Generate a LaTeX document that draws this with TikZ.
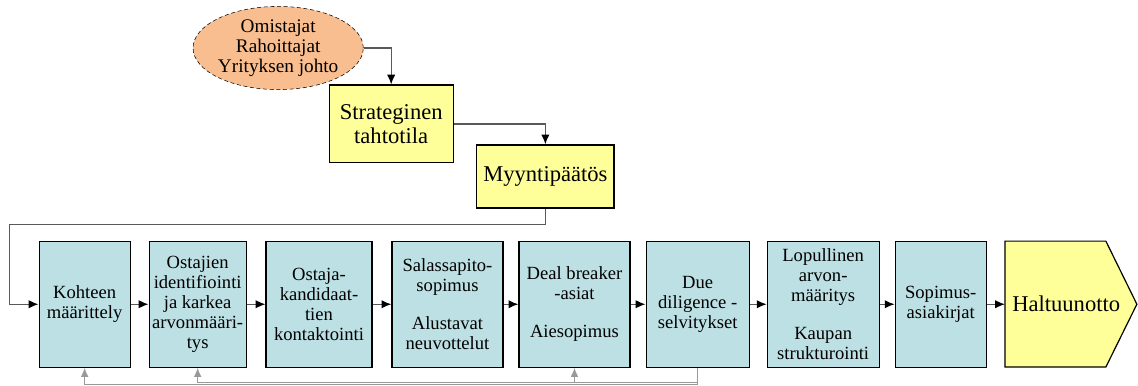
\documentclass[tikz,border=0pt]{standalone}
\usepackage{fontspec}
\setmainfont{Liberation Serif}
\usetikzlibrary{arrows.meta,shapes.geometric}

\definecolor{phasefill}{RGB}{188,224,227}
\definecolor{decisionfill}{RGB}{255,255,153}
\definecolor{ownerfill}{RGB}{249,190,143}

\begin{document}
\begin{tikzpicture}[>={Latex[length=2.6mm,width=2.2mm,color=black]},
	phase/.style={draw, line width=0.9pt, fill=phasefill, align=center, inner sep=0pt,
		minimum height=3.33cm, font=\fontsize{14}{15}\selectfont},
	decision/.style={draw, line width=0.9pt, fill=decisionfill, align=center, inner sep=0pt,
		font=\fontsize{17}{18}\selectfont},
	owner/.style={ellipse, draw, densely dashed, thin, fill=ownerfill, align=center, inner sep=0pt,
		minimum width=4.15cm, minimum height=2.2cm, font=\fontsize{14.5}{15}\selectfont},
	flow/.style={->, line width=0.9pt, draw=gray!70!black},
	back/.style={->, line width=0.8pt, draw=gray!80, >={Latex[length=2.4mm,width=2mm,color=gray!80]}}]
	\useasboundingbox (0,0) rectangle (30.11,10.19);
	% ylataso
	\node[owner] (own) at (7.36,8.92) {Omistajat\\Rahoittajat\\Yrityksen johto};
	\node[decision, minimum width=3.28cm, minimum height=2.06cm] (strat) at (10.35,6.91) {Strateginen\\tahtotila};
	\node[decision, minimum width=3.63cm, minimum height=1.67cm] (myy) at (14.43,5.52) {Myyntipäätös};
	\coordinate (ret) at (0.26,4.26);
	% myyntiprosessin vaiheet
	\node[phase, minimum width=2.41cm] (k1) at (2.24,2.14) {Kohteen\\määrittely};
	\node[phase, minimum width=2.57cm] (k2) at (5.23,2.14) {Ostajien\\identifiointi\\ja karkea\\arvonmääri-\\tys};
	\node[phase, minimum width=2.80cm] (k3) at (8.44,2.14) {Ostaja-\\kandidaat-\\tien\\kontaktointi};
	\node[phase, minimum width=2.94cm] (k4) at (11.84,2.14) {Salassapito-\\sopimus\\[14pt]Alustavat\\neuvottelut};
	\node[phase, minimum width=2.94cm] (k5) at (15.20,2.14) {Deal breaker\\-asiat\\[14pt]Aiesopimus};
	\node[phase, minimum width=2.73cm] (k6) at (18.46,2.14) {Due\\diligence -\\selvitykset};
	\node[phase, minimum width=2.96cm] (k7) at (21.78,2.14) {Lopullinen\\arvon-\\määritys\\[14pt]Kaupan\\strukturointi};
	\node[phase, minimum width=2.41cm] (k8) at (24.89,2.14) {Sopimus-\\asiakirjat};
	% haltuunotto nuolenkarkena
	\coordinate (haltin) at (26.59,2.14);
	\draw[decision] (26.59,0.48) -- (26.59,3.81) -- (29.26,3.81) -- (30.08,2.14) -- (29.26,0.48) -- cycle;
	\node[font=\fontsize{17}{18}\selectfont] (halt) at (28.21,2.14) {Haltuunotto};
	% nuolet
	\draw[flow] (own.east) -| (strat.north);
	\draw[flow] (strat.east) -| (myy.north);
	\draw[flow] (myy.south) |- (ret) |- (k1.west);
	\foreach \a/\b in {k1/k2,k2/k3,k3/k4,k4/k5,k5/k6,k6/k7,k7/k8}
		\draw[flow] (\a.east) -- (\b.west);
	\draw[flow] (k8.east) -- (haltin);
	% paluu due diligencesta
	\draw[back] (k6.south) -- ++(0,-0.40) -| (k5.south);
	\draw[back] (k6.south) -- ++(0,-0.40) -| (k2.south);
	\draw[back] (k6.south) -- ++(0,-0.44) -| (k1.south);
\end{tikzpicture}
\end{document}
